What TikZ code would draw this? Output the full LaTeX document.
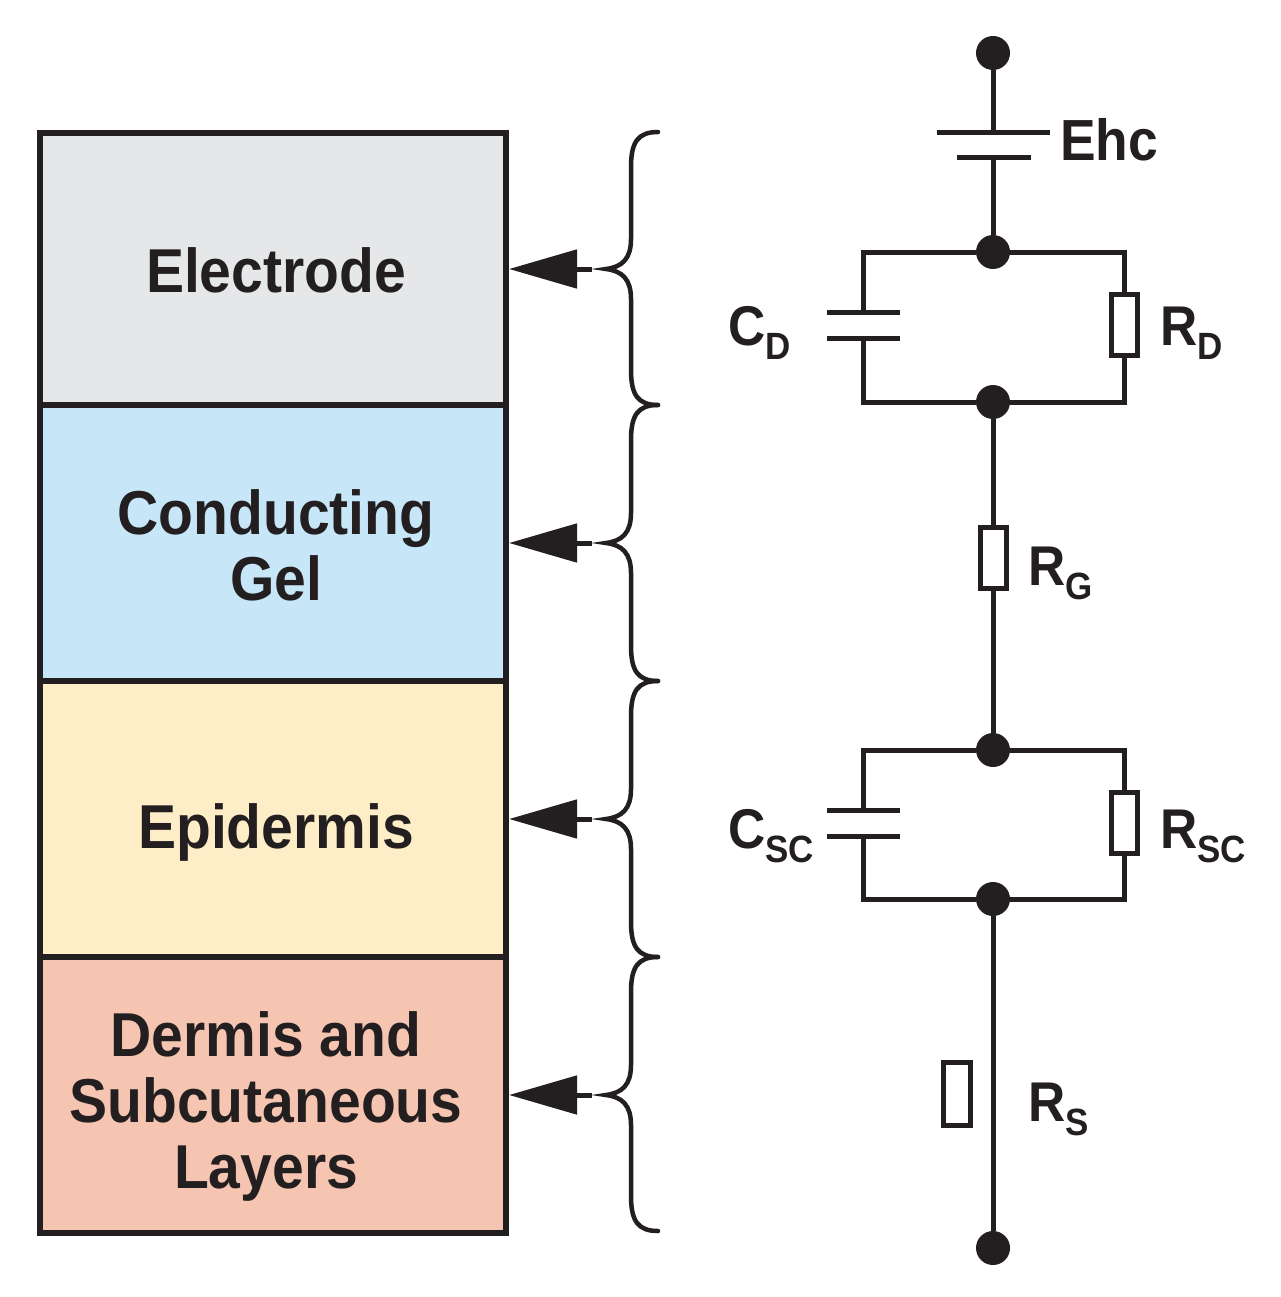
\documentclass[tikz,border=0pt]{standalone}
\usepackage{fontspec}
\setmainfont{Liberation Sans}[FakeStretch=0.92]
\usetikzlibrary{arrows.meta}
\definecolor{ink}{HTML}{231F20}
\definecolor{cElec}{HTML}{E6E7E8}
\definecolor{cGel}{HTML}{C7E6F8}
\definecolor{cEpi}{HTML}{FDEEC8}
\definecolor{cDerm}{HTML}{F6C5B1}
\newcommand{\lsub}[1]{\raisebox{-14pt}{\fontsize{38}{44}\selectfont #1}}
\begin{document}
\begin{tikzpicture}[x=1pt,y=-1pt,
  layer/.style={draw=ink, line width=6pt, minimum width=466pt, inner sep=0pt},
  boxtext/.style={font=\bfseries\fontsize{62}{66}\selectfont, text=ink, inner sep=0pt, align=center},
  wire/.style={draw=ink, line width=5pt},
  dot/.style={circle, fill=ink, minimum size=34pt, inner sep=0pt},
  res/.style={rectangle, draw=ink, line width=5pt, fill=white, minimum width=26pt, minimum height=61pt, inner sep=0pt},
  lbl/.style={font=\bfseries\fontsize{56}{60}\selectfont, text=ink, inner sep=0pt, anchor=base west},
  pointer/.style={draw=ink, line width=5pt, -{Triangle[length=68pt,width=38pt]}},
  bracestyle/.style={draw=ink, line width=4.5pt, line cap=round}
]
\fill[white] (0,0) rectangle (1280,1297);
\useasboundingbox (0,0) rectangle (1280,1297);

% layers
\node[layer, fill=cElec, minimum height=272pt] (elec) at (273,269) {};
\node[layer, fill=cGel,  minimum height=276pt] (gel)  at (273,543) {};
\node[layer, fill=cEpi,  minimum height=276pt] (epi)  at (273,819) {};
\node[layer, fill=cDerm, minimum height=276pt] (derm) at (273,1095) {};

\node[boxtext, anchor=base] (tElec) at (276,292) {Electrode};
\node[boxtext, anchor=north] (tGel) at (276,489) {Conducting\\Gel};
\node[boxtext, anchor=base] (tEpi) at (276,848) {Epidermis};
\node[boxtext, anchor=north] (tDerm) at (266,1011) {Dermis and\\Subcutaneous\\Layers};

% braces and pointers
\foreach \n/\ya/\ym/\yb in {elec/132/269/405, gel/405/543/681, epi/681/819/957, derm/957/1095/1231}{
  \draw[bracestyle] (658,\ya) .. controls (638,\ya) and (631,\ya+10) .. (631,\ya+35)
     -- (631,\ym-30) .. controls (631,\ym-10) and (622,\ym-2) .. (606,\ym)
     .. controls (622,\ym+2) and (631,\ym+10) .. (631,\ym+30)
     -- (631,\yb-35) .. controls (631,\yb-10) and (638,\yb) .. (658,\yb);
  \coordinate (\n tail) at (592,\ym);
  \draw[pointer] (\n tail) -- (\n.east);
}

% circuit nodes
\node[dot] (t0) at (993,53) {};
\node[dot] (n1) at (993,252) {};
\node[dot] (n2) at (993,402) {};
\node[dot] (n3) at (993,750) {};
\node[dot] (n4) at (993,899) {};
\node[dot] (t1) at (993,1248) {};

\coordinate (bp1) at (993,133);
\coordinate (bp2) at (993,158);
\coordinate (a1) at (863,252); \coordinate (a2) at (1124,252);
\coordinate (b1) at (863,402); \coordinate (b2) at (1124,402);
\coordinate (cd1) at (863,312); \coordinate (cd2) at (863,338);
\coordinate (c1) at (863,750); \coordinate (c2) at (1124,750);
\coordinate (d1) at (863,899); \coordinate (d2) at (1124,899);
\coordinate (cs1) at (863,810); \coordinate (cs2) at (863,836);

\node[res] (rD) at (1124,325) {};
\node[res] (rG) at (993,557.5) {};
\node[res] (rSC) at (1124,823) {};
\node[res, minimum width=27pt, minimum height=63pt] (rS) at (956.5,1094) {};

% battery
\draw[wire] (t0) -- (bp1);
\draw[wire] (937,133) -- (1050,133);
\draw[wire] (957,158) -- (1031,158);
\draw[wire] (bp2) -- (n1);

% C_D || R_D
\draw[wire] (n1) -- (a1) -- (cd1);
\draw[wire] (cd2) -- (b1) -- (n2);
\draw[wire] (827,312) -- (900,312);
\draw[wire] (827,338) -- (900,338);
\draw[wire] (n1) -- (a2) -- (rD.north);
\draw[wire] (rD.south) -- (b2) -- (n2);

% R_G
\draw[wire] (n2) -- (rG.north);
\draw[wire] (rG.south) -- (n3);

% C_SC || R_SC
\draw[wire] (n3) -- (c1) -- (cs1);
\draw[wire] (cs2) -- (d1) -- (n4);
\draw[wire] (827,810) -- (900,810);
\draw[wire] (827,836) -- (900,836);
\draw[wire] (n3) -- (c2) -- (rSC.north);
\draw[wire] (rSC.south) -- (d2) -- (n4);

% R_S line
\draw[wire] (n4) -- (t1);

% labels
\node[lbl, font=\bfseries\fontsize{58}{60}\selectfont] (lEhc) at (1060,161) {Ehc};
\node[lbl] (lCD) at (728,345) {C\lsub{D}};
\node[lbl] (lRD) at (1160,345) {R\lsub{D}};
\node[lbl] (lRG) at (1028,585) {R\lsub{G}};
\node[lbl] (lCSC) at (728,848) {C\lsub{SC}};
\node[lbl] (lRSC) at (1160,848) {R\lsub{SC}};
\node[lbl] (lRS) at (1028,1121) {R\lsub{S}};
\end{tikzpicture}
\end{document}
